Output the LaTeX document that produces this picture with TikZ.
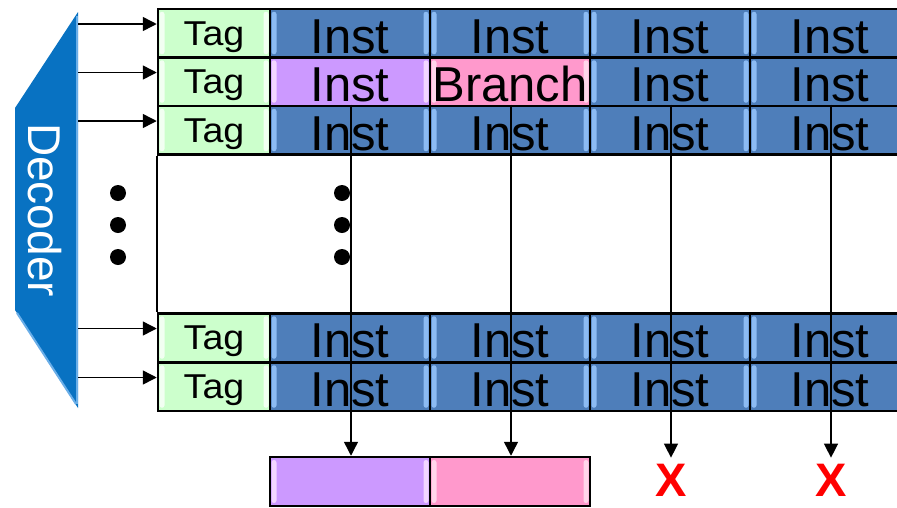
\documentclass[tikz,border=0pt]{standalone}
\usepackage{fontspec}
\setmainfont{Liberation Sans}
\newfontfamily\tagfont[FakeStretch=1.09]{Liberation Sans}
\usetikzlibrary{arrows.meta}
\definecolor{instblue}{HTML}{4E7EBA}
\definecolor{instbevel}{HTML}{8CBBF3}
\definecolor{taggreen}{HTML}{CCFFCC}
\definecolor{tagbevel}{HTML}{F2FFF2}
\definecolor{purp}{HTML}{CC99FF}
\definecolor{purpbevel}{HTML}{F2D6FF}
\definecolor{pinkc}{HTML}{FF99CC}
\definecolor{pinkbevel}{HTML}{FFD6EB}
\definecolor{decblue}{HTML}{0872C2}
\definecolor{decbevel}{HTML}{6AAEE8}
\tikzset{
  bevel/.style={path picture={
    \fill[#1,rounded corners=2.5pt] ([xshift=1.5pt,yshift=-3pt]path picture bounding box.north west) rectangle ([xshift=6.5pt,yshift=3pt]path picture bounding box.south west);
    \fill[#1,rounded corners=2.5pt] ([xshift=-1.5pt,yshift=-3pt]path picture bounding box.north east) rectangle ([xshift=-6.5pt,yshift=3pt]path picture bounding box.south east);
  }},
  cellbase/.style={draw=black, line width=2.5pt, minimum height=48.5pt, inner sep=0pt},
  instcell/.style={cellbase, minimum width=160pt, fill=instblue, bevel=instbevel,
    text height=40pt, text depth=0pt, font=\fontsize{49}{49}\selectfont},
  purpcell/.style={instcell, fill=purp, bevel=purpbevel},
  pinkcell/.style={instcell, fill=pinkc, bevel=pinkbevel},
  tagcell/.style={cellbase, minimum width=112pt, fill=taggreen, bevel=tagbevel,
    text height=24pt, text depth=0pt, font=\tagfont\fontsize{34.5}{34.5}\selectfont},
  outbox/.style={draw=black, line width=2.5pt, minimum width=160pt, minimum height=49pt, inner sep=0pt},
  harr/.style={draw=black, line width=1.5pt, -{Triangle[length=14pt,width=14pt]}},
  varr/.style={draw=black, line width=1.4pt, -{Triangle[length=14pt,width=14pt]}},
  dotmark/.style={circle, fill=black, minimum size=16pt, inner sep=0pt},
  xmark/.style={text=red, inner sep=6pt, font=\bfseries\fontsize{47}{47}\selectfont},
  dectext/.style={rotate=-90, text=white, inner sep=0pt, font=\fontsize{46}{46}\selectfont}
}
\begin{document}
\begin{tikzpicture}[x=1pt,y=-1pt]
\path[use as bounding box] (0,0) rectangle (897,507);
\clip (0,0) rectangle (897,507);
% decoder
\fill[decblue] (78,12) -- (15,108) -- (15,310) -- (78,408) -- cycle;
\draw[decbevel, line width=2.5pt] (77,16) -- (77,404);
\draw[decbevel, line width=2pt] (17,313) -- (76,404);
\node[dectext] (dec) at (45,210) {Decoder};
\coordinate (decR) at (78,210);
% rows
\foreach \r/\y in {1/33,3/130,4/337.5,5/386.5}{
  \node[tagcell] (t\r) at (214,\y) {Tag};
  \foreach \c/\x in {1/350,2/510,3/670,4/830}
    \node[instcell] (c\r\c) at (\x,\y) {Inst};
}
\node[tagcell] (t2) at (214,81.5) {Tag};
\node[purpcell] (c21) at (350,81.5) {Inst};
\node[pinkcell] (c22) at (510,81.5) {Branch};
\node[instcell] (c23) at (670,81.5) {Inst};
\node[instcell] (c24) at (830,81.5) {Inst};
% frame side between row blocks
\draw[line width=2.5pt] (t3.south west) -- (t4.north west);
% dots
\foreach \i/\y in {1/193,2/225,3/257}{
  \node[dotmark] (dl\i) at (118,\y) {};
  \node[dotmark] (dm\i) at (342,\y) {};
}
% output boxes and marks
\node[outbox, fill=purp, bevel=purpbevel] (b1) at (350,481.5) {};
\node[outbox, fill=pinkc, bevel=pinkbevel] (b2) at (510,481.5) {};
\node[xmark] (x3) at (671,480) {X};
\node[xmark] (x4) at (831,480) {X};
% decoder arrows
\foreach \r in {1,...,5}{
  \coordinate (a\r) at ([yshift=9pt]t\r.west);
  \draw[harr] (a\r -| decR) -- (a\r);
}
% vertical arrows
\draw[varr] ([xshift=1pt]c31.north) -- ([xshift=1pt]b1.north);
\draw[varr] ([xshift=1pt]c32.north) -- ([xshift=1pt]b2.north);
\draw[varr] ([xshift=1pt]c33.north) -- (x3.north);
\draw[varr] ([xshift=1pt]c34.north) -- (x4.north);
\end{tikzpicture}
\end{document}
